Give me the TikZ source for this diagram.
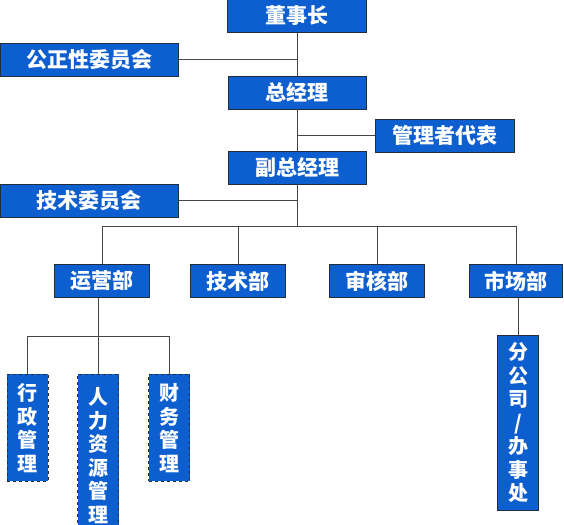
\documentclass[tikz,border=0pt]{standalone}
\usepackage{fontspec}
\usepackage{tikz}
\usepackage{xcolor}
\newfontfamily\cjk{Noto Sans CJK SC}
\definecolor{boxblue}{RGB}{13,95,208}
\definecolor{boxline}{RGB}{35,45,60}
\definecolor{linkgray}{RGB}{70,70,70}

\begin{document}
\begin{tikzpicture}[
  hbox/.style={rectangle, draw=boxline, line width=0.9pt, fill=boxblue, text=white,
    font=\cjk\fontsize{21}{21}\selectfont\bfseries, inner sep=0pt, minimum height=33pt},
  vbox/.style={rectangle, draw=boxline, line width=0.9pt, fill=boxblue, text=white,
    font=\cjk\fontsize{20}{23.5}\selectfont\bfseries, inner sep=0pt, align=center,
    minimum width=41pt, anchor=north},
  link/.style={draw=linkgray, line width=0.8pt},
  x=1pt, y=-1pt
]
  \useasboundingbox (0,0) rectangle (564,524);

  %--- Top ---
  \node[hbox, minimum width=139pt] (chair) at (297, 16) {董事长};
  \node[hbox, minimum width=178pt] (fair)  at (89, 59.5) {公正性委员会};
  \node[hbox, minimum width=138pt] (gm)    at (297, 92.5) {总经理};
  \node[hbox, minimum width=139pt] (rep)   at (444.5, 135.5) {管理者代表};
  \node[hbox, minimum width=138pt] (dgm)   at (297, 167.5) {副总经理};
  \node[hbox, minimum width=178pt] (techc) at (89, 200.5) {技术委员会};

  %--- Departments ---
  \coordinate (bus) at (297, 226);
  \node[hbox, minimum width=95pt] (ops)    at (102, 281) {运营部};
  \node[hbox, minimum width=95pt] (techd)  at (238, 281) {技术部};
  \node[hbox, minimum width=95pt] (audit)  at (377, 281) {审核部};
  \node[hbox, minimum width=93pt] (market) at (516, 281) {市场部};

  %--- Sub units ---
  \coordinate (lbus) at (98, 336);
  \node[vbox, dashed, minimum height=107pt] (admin) at (27.5, 374) {行\\政\\管\\理};
  \node[vbox, dashed, minimum height=162pt] (hr)    at (98, 374) {人\\力\\资\\源\\管\\理};
  \node[vbox, dashed, minimum height=107pt] (fin)   at (169, 374) {财\\务\\管\\理};
  \node[vbox, minimum height=175pt] (branch) at (518, 335) {分\\公\\司\\/\\办\\事\\处};

  % Edges
  \draw[link] (chair) -- (gm);
  \draw[link] (fair.east) -- (fair.east -| gm.north);
  \draw[link] (gm) -- (dgm);
  \draw[link] (rep.west) -- (rep.west -| gm.south);
  \draw[link] (techc.east) -- (techc.east -| dgm.south);
  \draw[link] (dgm.south) -- (bus);
  \draw[link] (ops.north) -- (ops.north |- bus) -- (market.north |- bus) -- (market.north);
  \draw[link] (techd.north) -- (techd.north |- bus);
  \draw[link] (audit.north) -- (audit.north |- bus);
  \draw[link] (hr.north |- ops.south) -- (hr.north);
  \draw[link] (admin.north) -- (admin.north |- lbus) -- (fin.north |- lbus) -- (fin.north);
  \draw[link] (market.south -| branch.north) -- (branch.north);
\end{tikzpicture}
\end{document}
